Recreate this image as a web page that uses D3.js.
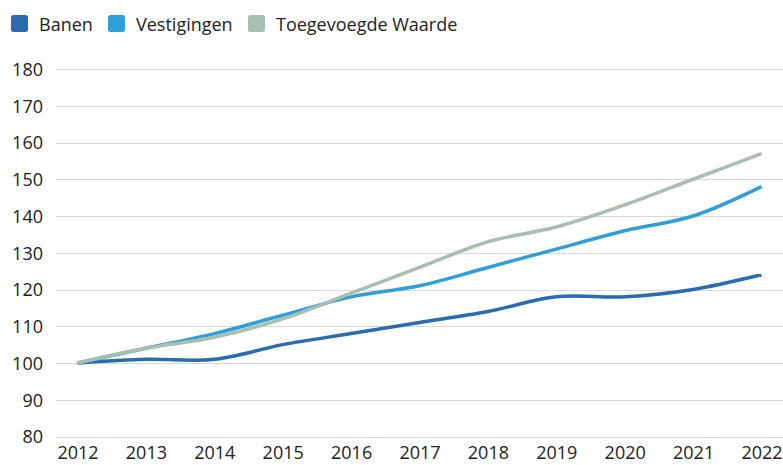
<!DOCTYPE html>
<html>
<head>
<meta charset="utf-8">
<script src="https://cdnjs.cloudflare.com/ajax/libs/d3/7.8.5/d3.min.js"></script>
<style>
  html, body { margin: 0; padding: 0; background: #fff; }
  svg { display: block; font-family: "Open Sans", "Noto Sans", sans-serif; }
  .tick-label { font-size: 18px; fill: #222; }
  .legend-label { font-size: 18px; fill: #222; }
</style>
</head>
<body>
<svg id="chart" width="783" height="465"></svg>
<script>
// Data
const YEARS = [2012, 2013, 2014, 2015, 2016, 2017, 2018, 2019, 2020, 2021, 2022];
const BANEN = [100, 101, 101, 105, 108, 111, 114, 118, 118, 120, 124];
const VESTIGINGEN = [100, 104, 108, 113, 118, 121, 126, 131, 136, 140, 148];
const TOEGEVOEGDE_WAARDE = [100, 104, 107, 112, 119, 126, 133, 137, 143, 150, 157];
const Y_TICKS = [80, 90, 100, 110, 120, 130, 140, 150, 160, 170, 180];

const SERIES = [
    { name: 'Banen', values: BANEN, color: '#2a6cb0' },
    { name: 'Vestigingen', values: VESTIGINGEN, color: '#2e9fd9' },
    { name: 'Toegevoegde Waarde', values: TOEGEVOEGDE_WAARDE, color: '#a7bfb0' }
];

const svg = d3.select('#chart');

const xScale = d3.scalePoint().domain(YEARS).range([77.5, 761.5]);
const yScale = d3.scaleLinear().domain([80, 180]).range([436.5, 69]);

// Сетка
svg.append('g')
    .selectAll('line')
    .data(Y_TICKS)
    .enter()
    .append('line')
    .attr('x1', 56)
    .attr('x2', 783)
    .attr('y1', d => Math.round(yScale(d)) + 0.5)
    .attr('y2', d => Math.round(yScale(d)) + 0.5)
    .attr('stroke', '#d9d9d9')
    .attr('stroke-width', 1);

// Ось Y
const yAxis = svg.append('g')
    .attr('transform', 'translate(43,0)')
    .call(d3.axisLeft(yScale).tickValues(Y_TICKS).tickSize(0).tickPadding(0));
yAxis.select('.domain').remove();
yAxis.selectAll('text')
    .attr('class', 'tick-label')
    .attr('dy', '0.35em');
yAxis.attr('font-family', null).attr('font-size', null);

// Ось X
const xAxis = svg.append('g')
    .attr('transform', 'translate(0,446)')
    .call(d3.axisBottom(xScale).tickSize(0).tickPadding(0));
xAxis.select('.domain').remove();
xAxis.selectAll('text')
    .attr('class', 'tick-label')
    .attr('dy', '0.71em');
xAxis.attr('font-family', null).attr('font-size', null);

// Линии
const line = d3.line()
    .x((d, i) => xScale(YEARS[i]))
    .y(d => yScale(d))
    .curve(d3.curveCatmullRom.alpha(0.5));

svg.append('g')
    .selectAll('path')
    .data(SERIES)
    .enter()
    .append('path')
    .attr('d', d => line(d.values))
    .attr('fill', 'none')
    .attr('stroke', d => d.color)
    .attr('stroke-width', 3.5)
    .attr('stroke-linejoin', 'round');

// Легенда
const legendX = [11, 108, 248];
const legend = svg.append('g');
SERIES.forEach((s, i) => {
    const g = legend.append('g').attr('transform', `translate(${legendX[i]},15)`);
    g.append('rect')
        .attr('width', 17)
        .attr('height', 17)
        .attr('rx', 2.5)
        .attr('fill', s.color);
    g.append('text')
        .attr('class', 'legend-label')
        .attr('x', 28)
        .attr('y', 15.5)
        .text(s.name);
});
</script>
</body>
</html>
